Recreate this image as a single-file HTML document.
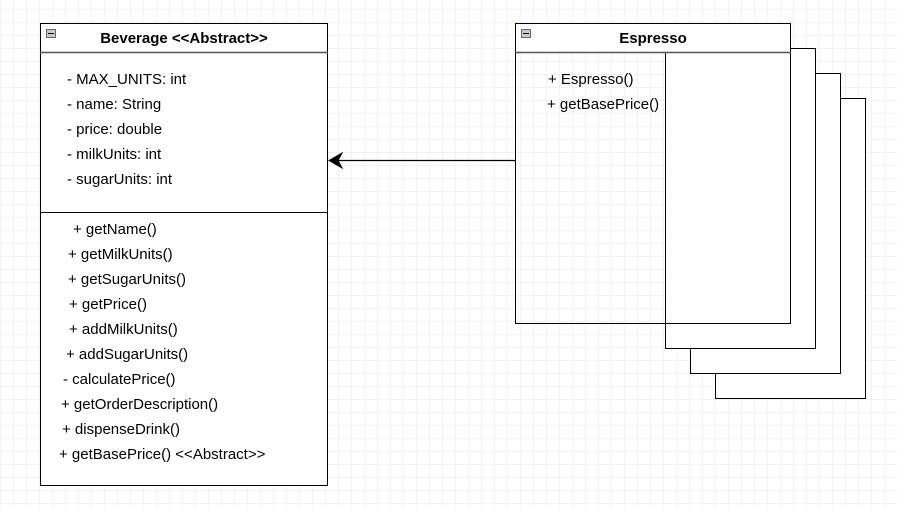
<!DOCTYPE html>
<html><head><meta charset="utf-8"><style>
html,body{margin:0;padding:0;}
body{width:897px;height:509px;overflow:hidden;background:#fff;}
svg text{font-family:"Liberation Sans",Arial,sans-serif;font-size:15px;fill:#000;}
</style></head><body>
<svg width="897" height="509" xmlns="http://www.w3.org/2000/svg">
<defs>
<pattern id="g" x="1" y="-3" width="13" height="13" patternUnits="userSpaceOnUse">
<path d="M13 0V13M0 13H13" stroke="#e6e6e6" stroke-width="1" fill="none"/>
</pattern>
</defs>
<rect width="897" height="509" fill="url(#g)"/>
<rect x="715.5" y="98.5" width="150" height="300" fill="#fff" stroke="#000"/>
<rect x="690.5" y="73.5" width="150" height="300" fill="#fff" stroke="#000"/>
<rect x="665.5" y="48.5" width="150" height="300" fill="#fff" stroke="#000"/>
<rect x="515.5" y="23.5" width="275" height="300" fill="none" stroke="#000"/>
<rect x="515.5" y="23.5" width="275" height="29" fill="#fff" stroke="#000"/>
<line x1="515" y1="52.5" x2="791" y2="52.5" stroke="#555" stroke-width="1.5"/>
<rect x="521.5" y="29.5" width="9" height="8" fill="#c8c8d0" stroke="#667"/>
<line x1="523" y1="33.5" x2="529" y2="33.5" stroke="#000"/>
<text x="653" y="43" text-anchor="middle" style="font-weight:bold">Espresso</text>
<text x="548" y="84">+ Espresso()</text>
<text x="547" y="109">+ getBasePrice()</text>
<rect x="40.5" y="23.5" width="287" height="462" fill="#fff" stroke="#000"/>
<line x1="40" y1="52.5" x2="328" y2="52.5" stroke="#555" stroke-width="1.5"/>
<line x1="40" y1="212.5" x2="328" y2="212.5" stroke="#000"/>
<rect x="46.5" y="29.5" width="9" height="8" fill="#c8c8d0" stroke="#667"/>
<line x1="48" y1="33.5" x2="54" y2="33.5" stroke="#000"/>
<text x="184" y="43" text-anchor="middle" style="font-weight:bold">Beverage &lt;&lt;Abstract&gt;&gt;</text>
<text x="67" y="84">- MAX_UNITS: int</text>
<text x="67" y="109">- name: String</text>
<text x="67" y="134">- price: double</text>
<text x="67" y="159">- milkUnits: int</text>
<text x="67" y="184">- sugarUnits: int</text>
<text x="73" y="234">+ getName()</text>
<text x="68" y="259">+ getMilkUnits()</text>
<text x="68" y="284">+ getSugarUnits()</text>
<text x="69" y="309">+ getPrice()</text>
<text x="69" y="334">+ addMilkUnits()</text>
<text x="66" y="359">+ addSugarUnits()</text>
<text x="63" y="384">- calculatePrice()</text>
<text x="61" y="409">+ getOrderDescription()</text>
<text x="62" y="434">+ dispenseDrink()</text>
<text x="59" y="459">+ getBasePrice() &lt;&lt;Abstract&gt;&gt;</text>
<line x1="515" y1="160.5" x2="336" y2="160.5" stroke="#000" stroke-width="1.3"/>
<path d="M329 160.5 L342 153 L338 160.5 L342 168 Z" fill="#000" stroke="#000"/>
</svg>
</body></html>
